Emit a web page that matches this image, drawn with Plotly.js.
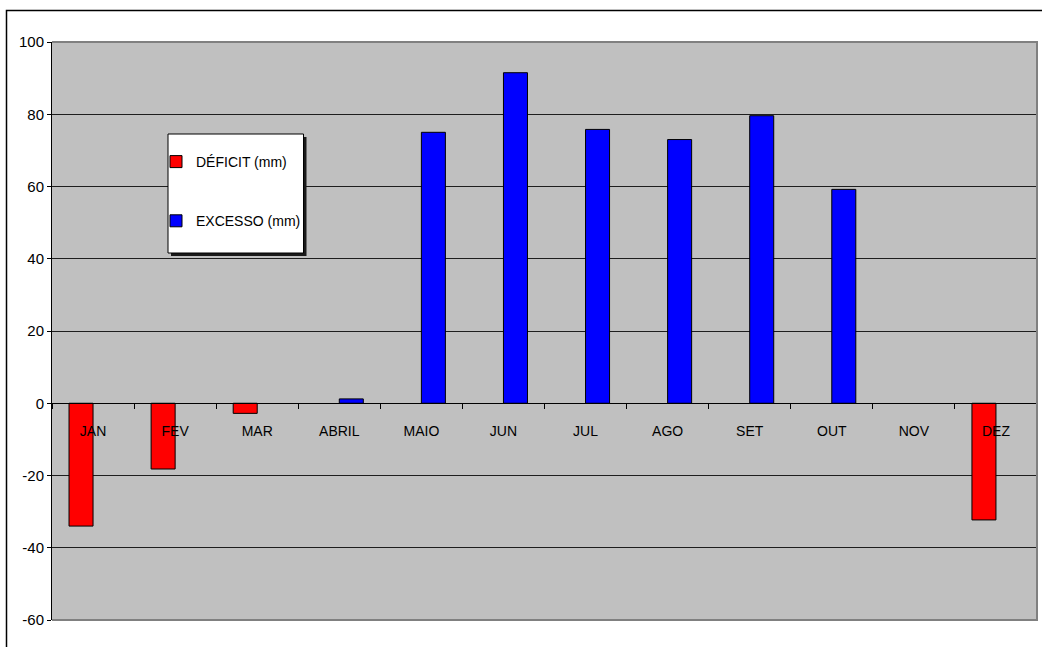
<!DOCTYPE html>
<html>
<head>
<meta charset="utf-8">
<script src="https://cdn.plot.ly/plotly-3.0.1.min.js"></script>
<style>
  html, body { margin: 0; padding: 0; background: #ffffff; }
  #chart { width: 1042px; height: 647px; }
</style>
</head>
<body>
<div id="chart"></div>
<script>
// Monthly water balance: deficit and surplus (mm); null = no value that month
const months = ['JAN', 'FEV', 'MAR', 'ABRIL', 'MAIO', 'JUN', 'JUL', 'AGO', 'SET', 'OUT', 'NOV', 'DEZ'];
const deficit = [-34, -18.2, -2.8, null, null, null, null, null, null, null, null, -32.3];
const excesso = [null, null, null, 1.2, 75, 91.5, 75.8, 73, 79.6, 59.2, null, null];
const yTicks = [-60, -40, -20, 0, 20, 40, 60, 80, 100];

const W = 1042, H = 647;
const M = { l: 52, r: 5, t: 42, b: 27 };
const yRange = [-60, 100];
const fontFam = '"Liberation Sans", Arial, sans-serif';

// pixel -> paper helpers for the decorative shapes
const plotW = W - M.l - M.r, plotH = H - M.t - M.b;
const px = x => (x - M.l) / plotW;
const py = y => (H - M.b - y) / plotH;

const traces = [
  {
    type: 'bar', name: 'DÉFICIT (mm)', x: months, y: deficit,
    marker: { color: '#FF0000', line: { color: '#000000', width: 1 } },
    legendgroup: 'a', hoverinfo: 'skip'
  },
  {
    type: 'bar', name: 'EXCESSO (mm)', x: months, y: excesso,
    marker: { color: '#0000FF', line: { color: '#000000', width: 1 } },
    legendgroup: 'b', hoverinfo: 'skip'
  }
];

const layout = {
  width: W, height: H,
  margin: M,
  paper_bgcolor: '#ffffff',
  plot_bgcolor: '#C0C0C0',
  barmode: 'group',
  bargap: 0.415,
  bargroupgap: 0,
  font: { family: fontFam, color: '#000000' },
  showlegend: true,
  legend: {
    x: px(156), y: py(146), xanchor: 'left', yanchor: 'top',
    bgcolor: 'rgba(0,0,0,0)', borderwidth: 0,
    font: { family: fontFam, size: 14, color: '#000000' },
    traceorder: 'grouped', tracegroupgap: 38
  },
  xaxis: {
    type: 'category',
    anchor: 'free',
    position: (0 - yRange[0]) / (yRange[1] - yRange[0]),
    showline: true, linecolor: '#000000', linewidth: 1,
    ticks: 'outside', tickson: 'boundaries', ticklen: 5, tickcolor: '#000000', tickwidth: 1,
    ticklabelstandoff: 15,
    showgrid: false, zeroline: false,
    tickfont: { family: fontFam, size: 14, color: '#000000' },
    fixedrange: true
  },
  yaxis: {
    range: yRange,
    tickvals: yTicks,
    ticktext: yTicks.map(String),
    showline: true, linecolor: '#000000', linewidth: 1,
    ticks: 'outside', ticklen: 4, tickcolor: '#000000',
    showgrid: true, gridcolor: '#1e1e1e', gridwidth: 1,
    zeroline: false,
    tickfont: { family: fontFam, size: 15, color: '#000000' },
    fixedrange: true
  },
  shapes: [
    // outer chart frame
    {
      type: 'rect', xref: 'paper', yref: 'paper', layer: 'above',
      x0: px(6.5), x1: px(1050), y0: py(655), y1: py(10.5),
      line: { color: '#000000', width: 1.5 }, fillcolor: 'rgba(0,0,0,0)'
    },
    // plot-area border (top, right, bottom)
    {
      type: 'path', xref: 'paper', yref: 'paper', layer: 'above',
      path: 'M0,1 L1,1 L1,0 L0,0',
      line: { color: '#808080', width: 2 }
    },
    // legend shadow and box
    {
      type: 'rect', xref: 'paper', yref: 'paper', layer: 'above',
      x0: px(171), x1: px(306.5), y0: py(256), y1: py(137),
      line: { width: 0 }, fillcolor: '#1a1a1a'
    },
    {
      type: 'rect', xref: 'paper', yref: 'paper', layer: 'above',
      x0: px(168), x1: px(303.5), y0: py(253), y1: py(134),
      line: { color: '#000000', width: 1 }, fillcolor: '#ffffff'
    }
  ]
};

Plotly.newPlot('chart', traces, layout, { staticPlot: true, displayModeBar: false });
</script>
</body>
</html>
